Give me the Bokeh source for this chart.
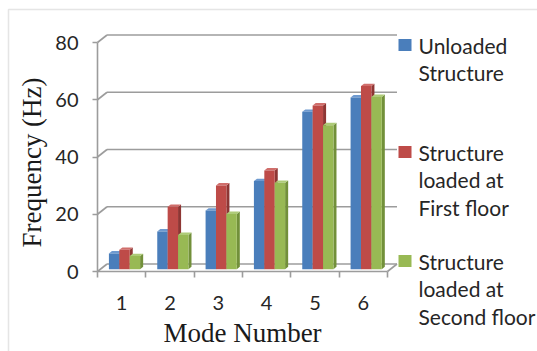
from bokeh.plotting import figure
from bokeh.models import Range1d, FixedTicker, BoxAnnotation, Label
from bokeh.embed import file_html
from bokeh.resources import INLINE
import math

# ---- data -------------------------------------------------------------
modes = [1, 2, 3, 4, 5, 6]
unloaded = [5.5, 13.2, 20.5, 30.8, 55.0, 60.0]
loaded_first = [6.8, 21.8, 29.3, 34.5, 57.2, 64.0]
loaded_second = [4.6, 12.0, 19.3, 30.2, 50.3, 60.2]
y_ticks = [0, 20, 40, 60, 80]

series = [
    (unloaded, ["Unloaded", "Structure"]),
    (loaded_first, ["Structure", "loaded at", "First floor"]),
    (loaded_second, ["Structure", "loaded at", "Second floor"]),
]
front_colors = ["#4A7EBB", "#BE4B48", "#98B954"]
side_colors = ["#36608F", "#8E3634", "#72903A"]
top_colors = ["#6E9AD0", "#D06E6B", "#AECB78"]

# ---- layout constants (pixels) -----------------------------------------
W, H = 537, 351
ORIGIN_X, ORIGIN_Y = 97, 271     # canvas position of (first category edge, 0 Hz)
CAT_PX = 290 / 6                 # width of one category on the front plane
VAL_PX = 229 / 80                # pixels per Hz on the front plane
DEPTH_DX, DEPTH_DY = 9.5, 7.5    # oblique offset of the back wall, px
GRID = "#9C9C9C"
FONT = "Lato"
SERIF = "Liberation Serif"

x0 = modes[0] - 0.5
x1 = modes[-1] + 0.5
xs = x0 - ORIGIN_X / CAT_PX
ys = -(H - ORIGIN_Y) / VAL_PX
p = figure(
    width=W, height=H, title=None, toolbar_location=None, output_backend="svg",
    x_range=Range1d(xs, xs + W / CAT_PX),
    y_range=Range1d(ys, ys + H / VAL_PX),
    min_border=0,
)
p.outline_line_color = None
p.xgrid.visible = False
p.ygrid.visible = False
p.background_fill_color = "white"
p.border_fill_color = "white"

# depth offsets in data units
ddx = DEPTH_DX / CAT_PX
ddy = DEPTH_DY / VAL_PX

# ---- walls: back gridlines, side-wall diagonals, floor edge -----------
for v in y_ticks:
    p.line([x0 + ddx, x1 + ddx], [v + ddy, v + ddy], line_color=GRID, line_width=1.6)
    p.line([x0, x0 + ddx], [v, v + ddy], line_color=GRID, line_width=1.6)
p.line([x1, x1 + ddx], [0, ddy], line_color=GRID, line_width=1.6)

# ---- 3-D columns ---------------------------------------------------------
d_front, d_back = 0.30, 0.62
bar_w = 10.4 / CAT_PX
n = len(series)
for ci, m in enumerate(modes):
    for si, (vals, _) in enumerate(series):
        v = vals[ci]
        xl = m - n * bar_w / 2 + si * bar_w + d_front * ddx
        xr = xl + bar_w
        yb = d_front * ddy
        yt = v + d_front * ddy
        sx = (d_back - d_front) * ddx
        sy = (d_back - d_front) * ddy
        # right side face
        p.patch([xr, xr + sx, xr + sx, xr], [yb, yb + sy, yt + sy, yt],
                fill_color=side_colors[si], line_color=None)
        # top face
        p.patch([xl, xl + sx, xr + sx, xr], [yt, yt + sy, yt + sy, yt],
                fill_color=top_colors[si], line_color=None)
        # front face
        p.quad(left=xl, right=xr, bottom=yb, top=yt,
               fill_color=front_colors[si], line_color=None)

# ---- axes (pinned to the front corner of the floor) ------------------------
ya = p.yaxis[0]
ya.fixed_location = x0
ya.ticker = FixedTicker(ticks=y_ticks)
ya.bounds = (y_ticks[0], y_ticks[-1])
ya.axis_line_color = GRID
ya.axis_line_width = 1.6
ya.major_tick_line_color = GRID
ya.major_tick_line_width = 1.6
ya.major_tick_out = 5
ya.major_tick_in = 0
ya.minor_tick_line_color = None
ya.major_label_standoff = 14
ya.major_label_text_font = FONT
ya.major_label_text_font_size = "20px"
ya.major_label_text_color = "#262626"

xa = p.xaxis[0]
xa.fixed_location = 0
xa.ticker = FixedTicker(ticks=modes, minor_ticks=[m - 0.5 for m in modes] + [x1])
xa.bounds = (x0, x1)
xa.axis_line_color = GRID
xa.axis_line_width = 1.6
xa.major_tick_out = 0
xa.major_tick_in = 0
xa.major_tick_line_color = None
xa.minor_tick_line_color = GRID
xa.minor_tick_line_width = 1.6
xa.minor_tick_out = 6
xa.minor_tick_in = 0
xa.major_label_standoff = 18
xa.major_label_text_font = FONT
xa.major_label_text_font_size = "20px"
xa.major_label_text_color = "#262626"

# axis titles
p.add_layout(Label(x=31, y=162, x_units="canvas", y_units="canvas",
                   text="Frequency (Hz)", angle=math.pi / 2,
                   text_align="center", text_baseline="middle",
                   text_font=SERIF, text_font_size="27px", text_color="#1a1a1a"))
p.add_layout(Label(x=242, y=332, x_units="canvas", y_units="canvas",
                   text="Mode Number", text_align="center", text_baseline="middle",
                   text_font=SERIF, text_font_size="27px", text_color="#1a1a1a"))

# ---- legend ----------------------------------------------------------------
legend_rows = [[44.5, 72], [151.5, 179, 207], [260.5, 288, 315.5]]
for si, (_, lines) in enumerate(series):
    rows = legend_rows[si]
    cy = rows[0]
    p.add_layout(BoxAnnotation(left=398, right=411, top=cy - 6, bottom=cy + 6,
                               left_units="canvas", right_units="canvas",
                               top_units="canvas", bottom_units="canvas",
                               fill_color=front_colors[si], fill_alpha=1,
                               line_color=None))
    for txt, ty in zip(lines, rows):
        p.add_layout(Label(x=418, y=ty, x_units="canvas", y_units="canvas",
                           text=txt, text_align="left", text_baseline="middle",
                           text_font=FONT, text_font_size="21px",
                           text_color="#262626"))

# chart-area border
p.add_layout(BoxAnnotation(left=8, right=W + 10, top=9, bottom=H + 10,
                           left_units="canvas", right_units="canvas",
                           top_units="canvas", bottom_units="canvas",
                           fill_alpha=0, line_color="#A8A8A8", line_width=1.5))

open("out.html", "w").write(file_html(p, INLINE))
